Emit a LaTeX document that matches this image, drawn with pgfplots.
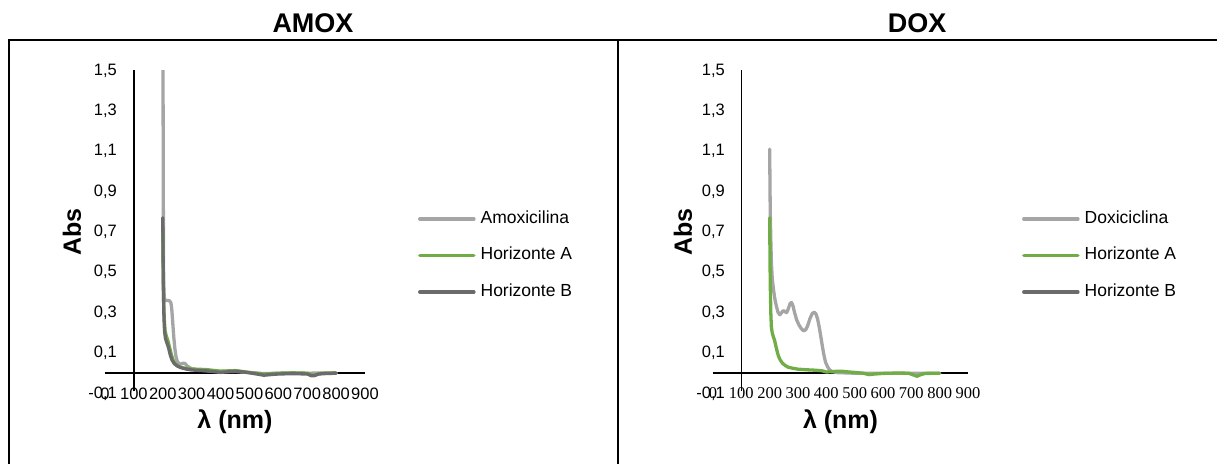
\documentclass[border=0pt]{standalone}
\usepackage{fontspec}
\setmainfont{Liberation Sans}
\newfontfamily\seriffont{Liberation Serif}
\usepackage{pgfplots}
\pgfplotsset{compat=1.18}
\definecolor{cAmox}{HTML}{A5A5A5}
\definecolor{cA}{HTML}{70AD47}
\definecolor{cB}{HTML}{6B6B6B}
\newcommand\tickfont{\fontsize{16.5}{19}\selectfont}
\newcommand\legfont{\fontsize{17.5}{20}\selectfont}
\newcommand\labfont{\fontsize{25}{30}\selectfont\bfseries}
\newcommand\titfont{\fontsize{27}{32}\selectfont\bfseries}
\pgfplotsset{
  spec/.style={
    scale only axis, height=323pt,
    xmin=0, xmax=900, ymin=-0.1, ymax=1.5,
    axis line style={draw=none}, major tick length=0pt, tick style={draw=none},
    xtick={0,100,200,300,400,500,600,700,800,900},
    xticklabels={0,100,200,300,400,500,600,700,800,900},
    ytick={-0.1,0.1,0.3,0.5,0.7,0.9,1.1,1.3,1.5},
    yticklabels={{-0,1},{0,1},{0,3},{0,5},{0,7},{0,9},{1,1},{1,3},{1,5}},
    yticklabel style={font=\tickfont, anchor=east, inner sep=0pt, xshift=12pt},
    xticklabel style={font=\tickfont, anchor=center, inner sep=0pt},
    xlabel={λ (nm)}, ylabel={Abs},
    xlabel style={font=\labfont, at={(axis description cs:0.5,-0.087)}, anchor=center},
    legend style={draw=none, fill=none, font=\legfont, anchor=west, inner sep=0pt, outer sep=0pt,
      nodes={inner sep=0pt, text height=13pt, text depth=4pt}, row sep=19.5pt,
      cells={anchor=west}, /tikz/every odd column/.append style={column sep=5pt}},
    legend image code/.code={\draw[##1, line width=3.6pt] (0pt,0pt) -- (54pt,0pt);},
    every axis plot/.append style={line width=3.3pt, line join=round, line cap=round, mark=none},
  }
}
\begin{document}
\begin{tikzpicture}
\path[use as bounding box] (0,0) rectangle (1217pt,464pt);
\draw[line width=1.2pt] (8pt,424pt) -- (1217pt,424pt);
\draw[line width=2pt] (9pt,424pt) -- (9pt,0pt);
\draw[line width=2pt] (618pt,424pt) -- (618pt,0pt);
\node[font=\titfont] at (313pt,441pt) {AMOX};
\node[font=\titfont] at (917pt,441pt) {DOX};

\begin{axis}[spec, width=260pt, at={(105pt,70.6pt)}, anchor=south west,
  ylabel style={font=\labfont, at={(axis description cs:-0.127,0.5)}, anchor=center},
  legend style={at={(1.204,0.427)}}]
\draw[black, line width=1.5pt] (axis cs:0,0) -- (axis cs:900,0);
\draw[black, line width=1.5pt] (axis cs:100,-0.09) -- (axis cs:100,1.5);
\addplot[cAmox] coordinates {(200,2.2) (201,1.4) (202,0.8) (203,0.45) (205,0.38) (208,0.36) (215,0.36) (222,0.36) (228,0.35) (231,0.32) (234,0.26) (238,0.18) (242,0.12) (246,0.08) (250,0.06) (256,0.048) (263,0.045) (270,0.05) (277,0.048) (285,0.035) (300,0.022) (320,0.016) (350,0.013) (400,0.009) (450,0.009) (500,0.003) (550,-0.002) (600,0.0) (650,0.002) (700,0.0) (750,0.001) (800,0.0)};
\addlegendentry{Amoxicilina}
\addplot[cA] coordinates {(200,0.72) (201,0.55) (203,0.36) (205,0.27) (208,0.21) (212,0.185) (218,0.16) (224,0.125) (230,0.09) (236,0.065) (244,0.045) (255,0.033) (270,0.026) (300,0.021) (350,0.018) (400,0.01) (450,0.013) (500,0.004) (550,-0.004) (600,0.0) (650,0.002) (700,0.0) (720,-0.01) (750,0.0) (800,0.002)};
\addlegendentry{Horizonte A}
\addplot[cB] coordinates {(200,0.77) (201,0.6) (202,0.42) (204,0.28) (206,0.21) (209,0.175) (213,0.155) (217,0.14) (221,0.12) (226,0.09) (232,0.065) (240,0.047) (250,0.036) (262,0.028) (280,0.021) (300,0.016) (350,0.012) (400,0.004) (430,0.008) (460,0.01) (480,0.006) (500,0.002) (530,-0.005) (550,-0.01) (580,-0.006) (600,-0.004) (650,-0.002) (700,-0.004) (715,-0.013) (725,-0.012) (740,-0.004) (760,-0.002) (800,0.0)};
\addlegendentry{Horizonte B}
\end{axis}

\begin{axis}[spec, width=255pt, at={(713pt,70.6pt)}, anchor=south west,
  xticklabel style={font=\seriffont\tickfont},
  ylabel style={font=\labfont, at={(axis description cs:-0.118,0.5)}, anchor=center},
  legend style={at={(1.212,0.427)}}]
\draw[black, line width=1.5pt] (axis cs:0,0) -- (axis cs:900,0);
\draw[black, line width=1.5pt] (axis cs:100,-0.09) -- (axis cs:100,1.5);
\addplot[cAmox] coordinates {(200,1.11) (201,0.95) (202,0.8) (204,0.66) (206,0.55) (209,0.47) (213,0.42) (218,0.37) (224,0.33) (230,0.3) (236,0.29) (242,0.3) (248,0.31) (254,0.305) (260,0.3) (266,0.32) (272,0.345) (277,0.35) (282,0.335) (288,0.3) (295,0.265) (303,0.24) (312,0.22) (320,0.21) (327,0.215) (334,0.235) (342,0.27) (350,0.295) (357,0.302) (363,0.295) (369,0.27) (376,0.22) (383,0.16) (390,0.1) (397,0.055) (405,0.03) (412,0.016) (420,0.008) (440,0.003) (500,0.0) (600,0.0) (800,0.0)};
\addlegendentry{Doxiciclina}
\addplot[cA] coordinates {(200,0.77) (201,0.6) (202,0.45) (204,0.3) (206,0.23) (209,0.2) (213,0.18) (217,0.165) (221,0.14) (226,0.11) (231,0.085) (237,0.066) (245,0.05) (255,0.038) (265,0.03) (280,0.025) (300,0.02) (330,0.017) (360,0.015) (385,0.012) (400,0.006) (420,0.008) (440,0.01) (460,0.009) (480,0.006) (500,0.004) (530,0.0) (550,-0.007) (570,-0.004) (600,-0.001) (650,0.001) (690,0.0) (710,-0.01) (720,-0.015) (735,-0.006) (750,-0.001) (800,0.0)};
\addlegendentry{Horizonte A}
\addlegendimage{cB}
\addlegendentry{Horizonte B}
\end{axis}
\end{tikzpicture}
\end{document}
